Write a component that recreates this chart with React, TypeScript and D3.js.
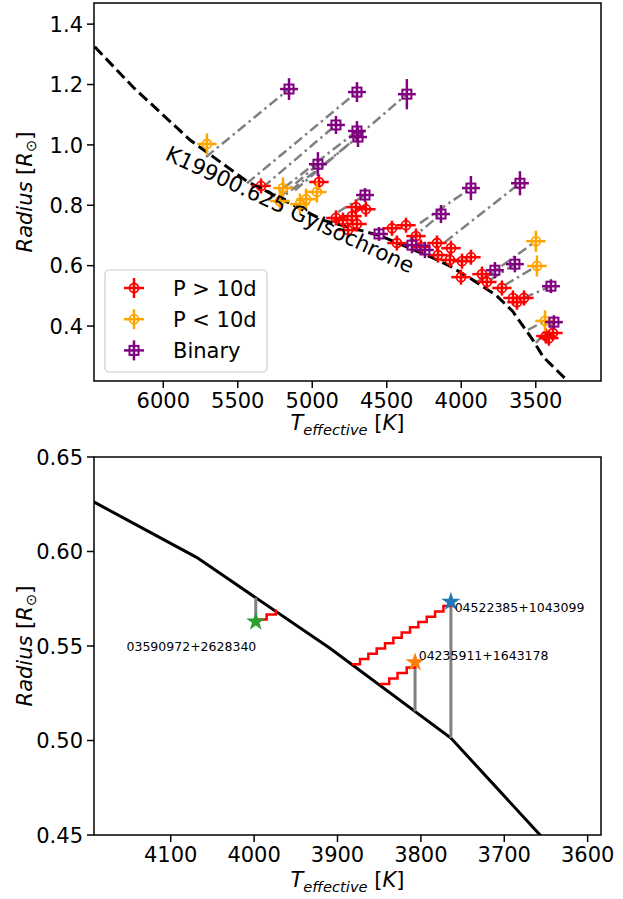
import React from "react";
import * as d3 from "d3";

// ---------- Isochrone (shared by both panels) ----------
const isoTeff = [6460, 6200, 5820, 5440, 4930, 4550, 4190, 4069, 3909, 3764, 3655, 3520, 3450, 3290];
const isoRad = [1.325, 1.19, 1.016, 0.88, 0.751, 0.7, 0.6257, 0.5969, 0.5488, 0.5013, 0.449, 0.354, 0.298, 0.22];
const isoLabel = "K19900.625 GyIsochrone";

// ---------- Top panel: P > 10d ----------
const redTeff = [5344, 4955, 4794, 4734, 4707, 4640, 4700, 4841, 4760, 4465, 4371, 4432, 4304, 4271, 4163, 4156, 4069, 4076, 3995, 3935, 4002, 3861, 3828, 3727, 3653, 3579, 3626, 3432, 3385, 3412];
const redRad = [0.864, 0.877, 0.751, 0.764, 0.794, 0.787, 0.738, 0.758, 0.718, 0.724, 0.734, 0.675, 0.698, 0.662, 0.675, 0.635, 0.658, 0.619, 0.615, 0.628, 0.562, 0.572, 0.546, 0.526, 0.493, 0.493, 0.479, 0.367, 0.377, 0.36];
const redTeffErr = 65;
const redRadErr = 0.025;

// ---------- Top panel: P < 10d ----------
const orangeTeff = [5707, 5197, 5217, 5083, 5042, 4969, 3499, 3492, 3438];
const orangeRad = [1.003, 0.857, 0.814, 0.804, 0.82, 0.844, 0.681, 0.599, 0.417];
const orangeTeffErr = 65;
const orangeRadErr = 0.035;

// ---------- Top panel: Binary ----------
const binTeff = [5156, 4700, 4365, 4841, 4700, 4693, 4962, 3935, 3606, 4646, 4136, 4552, 4331, 4244, 3774, 3640, 3398, 3378];
const binRad = [1.185, 1.175, 1.168, 1.066, 1.046, 1.026, 0.936, 0.857, 0.873, 0.834, 0.771, 0.705, 0.668, 0.652, 0.585, 0.605, 0.532, 0.413];
const binRadErr = [0.036, 0.033, 0.05, 0.03, 0.033, 0.033, 0.04, 0.04, 0.04, 0.023, 0.03, 0.023, 0.027, 0.027, 0.027, 0.027, 0.023, 0.023];
const binTeffErr = 60;

// ---------- Top panel: connecting lines ----------
const linkFromTeff = [5713, 5438, 5116, 5331, 5297, 5250, 5217, 4277, 4110, 4828, 4344, 3895, 3808, 3579, 3499, 3841, 3707, 3552];
const linkFromRad = [0.96, 0.873, 0.85, 0.86, 0.817, 0.807, 0.827, 0.741, 0.678, 0.777, 0.685, 0.546, 0.552, 0.493, 0.344, 0.559, 0.536, 0.387];
const linkToTeff = [5156, 4700, 4365, 4841, 4700, 4693, 4962, 3935, 3606, 4646, 4136, 3774, 3640, 3398, 3378, 3499, 3492, 3438];
const linkToRad = [1.185, 1.175, 1.168, 1.066, 1.046, 1.026, 0.936, 0.857, 0.873, 0.834, 0.771, 0.585, 0.605, 0.532, 0.413, 0.681, 0.599, 0.417];

const legendLabels = ["P > 10d", "P < 10d", "Binary"];

// ---------- Bottom panel ----------
const starNames = ["04522385+1043099", "04235911+1643178", "03590972+2628340"];
const starTeff = [3764, 3807, 3998];
const starRad = [0.5734, 0.5414, 0.5629];
const starLabelTeff = [3759.5, 3802.6, 4153];
const starLabelRad = [0.568, 0.5426, 0.5474];
const trackTeff = [
  [3883, 3873, 3863, 3853, 3843, 3833, 3823, 3813, 3803, 3793, 3783, 3773, 3764],
  [3849, 3838, 3828, 3817, 3807],
  [3996, 3985, 3974],
];
const trackRad = [
  [0.5403, 0.5431, 0.5459, 0.5487, 0.5515, 0.5543, 0.5571, 0.5599, 0.5627, 0.5655, 0.5683, 0.5711, 0.5734],
  [0.5299, 0.5328, 0.5357, 0.5386, 0.5414],
  [0.564, 0.5667, 0.5694],
];

const topXTicks = [6000, 5500, 5000, 4500, 4000, 3500];
const topYTicks = [0.4, 0.6, 0.8, 1.0, 1.2, 1.4];
const botXTicks = [4100, 4000, 3900, 3800, 3700, 3600];
const botYTicks = [0.45, 0.5, 0.55, 0.6, 0.65];

const FONT = "'DejaVu Sans', sans-serif";
const FS = 21;
const STAR_COLORS = ["#1f77b4", "#ff7f0e", "#2ca02c"];

type Scale = d3.ScaleLinear<number, number>;

function Axes({ x, y, xTicks, yTicks, yFmt, box, ylabelY, xlabelY }: {
  x: Scale; y: Scale; xTicks: number[]; yTicks: number[]; yFmt: (v: number) => string;
  box: { l: number; r: number; t: number; b: number }; ylabelY: number; xlabelY: number;
}) {
  return (
    <g fontFamily={FONT} fontSize={FS} fill="#000">
      <rect x={box.l} y={box.t} width={box.r - box.l} height={box.b - box.t} fill="none" stroke="#000" strokeWidth={1.5} />
      {xTicks.map((t) => (
        <g key={"x" + t}>
          <line x1={x(t)} x2={x(t)} y1={box.b} y2={box.b + 7} stroke="#000" strokeWidth={1.5} />
          <text x={x(t)} y={box.b + 27} textAnchor="middle">{String(t)}</text>
        </g>
      ))}
      {yTicks.map((t) => (
        <g key={"y" + t}>
          <line x1={box.l - 7} x2={box.l} y1={y(t)} y2={y(t)} stroke="#000" strokeWidth={1.5} />
          <text x={box.l - 11} y={y(t) + 7.6} textAnchor="end">{yFmt(t)}</text>
        </g>
      ))}
      <text transform={`translate(32,${ylabelY}) rotate(-90)`} textAnchor="middle">
        <tspan fontStyle="italic">Radius</tspan>
        <tspan> [</tspan>
        <tspan fontStyle="italic">R</tspan>
        <tspan fontSize={14.7} dy={4}>⊙</tspan>
        <tspan dy={-4}>]</tspan>
      </text>
      <text x={(box.l + box.r) / 2} y={xlabelY} textAnchor="middle">
        <tspan fontStyle="italic">T</tspan>
        <tspan fontStyle="italic" fontSize={14.7} dy={5}>effective</tspan>
        <tspan dy={-5}> [</tspan>
        <tspan fontStyle="italic">K</tspan>
        <tspan>]</tspan>
      </text>
    </g>
  );
}

function ErrMarker({ cx, cy, dx, dy, color, shape }: { cx: number; cy: number; dx: number; dy: number; color: string; shape: "o" | "s" }) {
  return (
    <g>
      <line x1={cx - dx} x2={cx + dx} y1={cy} y2={cy} stroke={color} strokeWidth={2.5} />
      <line x1={cx} x2={cx} y1={cy - dy} y2={cy + dy} stroke={color} strokeWidth={2.5} />
      {shape === "o" ? (
        <circle cx={cx} cy={cy} r={4.5} fill="none" stroke={color} strokeWidth={1.8} />
      ) : (
        <rect x={cx - 4.5} y={cy - 4.5} width={9} height={9} fill="none" stroke={color} strokeWidth={2} />
      )}
    </g>
  );
}

export default function App() {
  const topBox = { l: 94, r: 601, t: 3, b: 381 };
  const botBox = { l: 94, r: 601, t: 457, b: 835 };
  const xT = d3.scaleLinear().domain([6465, 3062]).range([topBox.l, topBox.r]);
  const yT = d3.scaleLinear().domain([0.218, 1.47]).range([topBox.b, topBox.t]);
  const xB = d3.scaleLinear().domain([4192, 3584]).range([botBox.l, botBox.r]);
  const yB = d3.scaleLinear().domain([0.45, 0.65]).range([botBox.b, botBox.t]);

  const isoPts: [number, number][] = isoTeff.map((t, i) => [t, isoRad[i]]);
  const isoInterp = d3.scaleLinear().domain(isoTeff).range(isoRad);
  const topLine = d3.line<[number, number]>().x((d) => xT(d[0])).y((d) => yT(d[1]));
  const botLine = d3.line<[number, number]>().x((d) => xB(d[0])).y((d) => yB(d[1]));
  const stepLine = d3.line<[number, number]>().x((d) => xB(d[0])).y((d) => yB(d[1])).curve(d3.curveStepAfter);
  const starPath = d3.symbol(d3.symbolStar, 115)() || "";

  const pxT = (t: number, e: number) => Math.abs(xT(t + e) - xT(t));
  const pyT = (r: number, e: number) => Math.abs(yT(r + e) - yT(r));

  return (
    <div style={{ position: "absolute", left: 0, top: 0 }}>
      <svg width={623} height={899} style={{ display: "block", background: "#fff" }}>
        <defs>
          <clipPath id="clipTop">
            <rect x={topBox.l} y={topBox.t} width={topBox.r - topBox.l} height={topBox.b - topBox.t} />
          </clipPath>
          <clipPath id="clipBot">
            <rect x={botBox.l} y={botBox.t} width={botBox.r - botBox.l} height={botBox.b - botBox.t} />
          </clipPath>
        </defs>

        {/* ---------------- Top panel ---------------- */}
        <g clipPath="url(#clipTop)">
          {linkFromTeff.map((t, i) => (
            <line key={"lk" + i} x1={xT(t)} y1={yT(linkFromRad[i])} x2={xT(linkToTeff[i])} y2={yT(linkToRad[i])}
              stroke="gray" strokeWidth={2.5} strokeDasharray="10,4,2.5,4" />
          ))}
          <path d={topLine(isoPts) || ""} fill="none" stroke="#000" strokeWidth={3} strokeDasharray="11,5" />
          {redTeff.map((t, i) => (
            <ErrMarker key={"r" + i} cx={xT(t)} cy={yT(redRad[i])} dx={pxT(t, redTeffErr)} dy={pyT(redRad[i], redRadErr)} color="red" shape="o" />
          ))}
          {orangeTeff.map((t, i) => (
            <ErrMarker key={"o" + i} cx={xT(t)} cy={yT(orangeRad[i])} dx={pxT(t, orangeTeffErr)} dy={pyT(orangeRad[i], orangeRadErr)} color="orange" shape="o" />
          ))}
          {binTeff.map((t, i) => (
            <ErrMarker key={"b" + i} cx={xT(t)} cy={yT(binRad[i])} dx={pxT(t, binTeffErr)} dy={pyT(binRad[i], binRadErr[i])} color="purple" shape="s" />
          ))}
        </g>
        <text transform="translate(164,159) rotate(25)" fontFamily={FONT} fontSize={21.5} fill="#000">{isoLabel}</text>

        {/* Legend */}
        <g fontFamily={FONT} fontSize={FS}>
          <rect x={105} y={270} width={162} height={102} rx={4} fill="#fff" fillOpacity={0.8} stroke="#cccccc" strokeWidth={1.2} />
          {legendLabels.map((lab, i) => {
            const cy = 288 + i * 31.2;
            const col = ["red", "orange", "purple"][i];
            return (
              <g key={lab}>
                <ErrMarker cx={134} cy={cy} dx={10} dy={10} color={col} shape={i === 2 ? "s" : "o"} />
                <text x={173} y={cy + 7.6}>{lab}</text>
              </g>
            );
          })}
        </g>

        <Axes x={xT} y={yT} xTicks={topXTicks} yTicks={topYTicks} yFmt={d3.format(".1f")} box={topBox} ylabelY={192} xlabelY={430} />

        {/* ---------------- Bottom panel ---------------- */}
        <g clipPath="url(#clipBot)">
          <path d={botLine(isoPts) || ""} fill="none" stroke="#000" strokeWidth={3} />
          {starTeff.map((t, i) => (
            <line key={"g" + i} x1={xB(t)} x2={xB(t)} y1={yB(starRad[i])} y2={yB(isoInterp(t))} stroke="gray" strokeWidth={3} />
          ))}
          {trackTeff.map((tt, i) => (
            <path key={"tr" + i} d={stepLine(tt.map((t, j) => [t, trackRad[i][j]] as [number, number])) || ""} fill="none" stroke="red" strokeWidth={2.5} />
          ))}
          {starTeff.map((t, i) => (
            <path key={"s" + i} d={starPath} transform={`translate(${xB(t)},${yB(starRad[i])})`} fill={STAR_COLORS[i]} />
          ))}
        </g>
        {starNames.map((n, i) => (
          <text key={n} x={xB(starLabelTeff[i])} y={yB(starLabelRad[i])} fontFamily={FONT} fontSize={12.5} fill="#000">{n}</text>
        ))}

        <Axes x={xB} y={yB} xTicks={botXTicks} yTicks={botYTicks} yFmt={d3.format(".2f")} box={botBox} ylabelY={646} xlabelY={887} />
      </svg>
    </div>
  );
}
